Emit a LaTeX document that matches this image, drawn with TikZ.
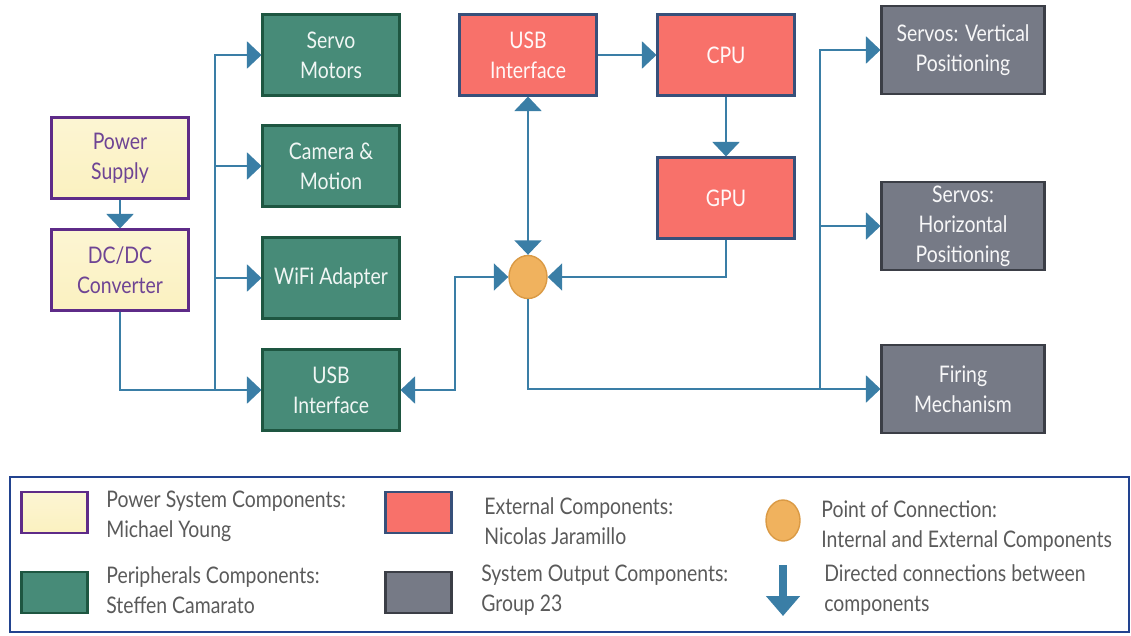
\documentclass[tikz,border=0pt]{standalone}
\usepackage{fontspec}
\setmainfont{Lato}[FakeStretch=0.85]
\usepackage{tikz}
\usetikzlibrary{arrows.meta, positioning, calc, shapes.geometric}

\definecolor{flowblue}{HTML}{3A7EA6}
\definecolor{pwrfill}{HTML}{FBF1C0}
\definecolor{pwrline}{HTML}{5E2B88}
\definecolor{pwrtext}{HTML}{6E4494}
\definecolor{perfill}{HTML}{478B78}
\definecolor{perline}{HTML}{1E5641}
\definecolor{extfill}{HTML}{F8716A}
\definecolor{extline}{HTML}{37507A}
\definecolor{outfill}{HTML}{767A86}
\definecolor{outline}{HTML}{3B3E46}
\definecolor{hubfill}{HTML}{F0B25E}
\definecolor{hubline}{HTML}{DA9A45}
\definecolor{keytext}{HTML}{5A5A5A}
\definecolor{keyframe}{HTML}{22438F}

\begin{document}
\begin{tikzpicture}[
        x=0.02cm, y=-0.02cm,
        block/.style={rectangle, line width=1.2pt, minimum width=2.74cm, minimum height=1.62cm, align=center, inner sep=1pt, font=\fontsize{13}{17}\selectfont},
        pwrbox/.style={block, draw=pwrline, top color=pwrfill!70!white, bottom color=pwrfill, text=pwrtext},
        perbox/.style={block, draw=perline, fill=perfill, text=white!92!perfill},
        extbox/.style={block, draw=extline, fill=extfill, text=white!95!extfill},
        outbox/.style={block, draw=outline, fill=outfill, text=white!94!outfill, minimum width=3.26cm, minimum height=1.76cm},
        hubdot/.style={ellipse, draw=hubline, fill=hubfill, line width=0.8pt, minimum width=0.76cm, minimum height=0.86cm, inner sep=0pt},
        conn/.style={draw=flowblue, line width=1.2pt, -{Triangle[length=0.29cm, width=0.54cm]}},
        biconn/.style={conn, {Triangle[length=0.29cm, width=0.54cm]}-{Triangle[length=0.29cm, width=0.54cm]}},
        swatch/.style={rectangle, line width=1.2pt, minimum width=1.32cm, minimum height=0.82cm, inner sep=0pt},
        keylabel/.style={anchor=west, align=left, inner sep=0pt, text=keytext, font=\fontsize{13}{17}\selectfont}
    ]
        \useasboundingbox (0,0) rectangle (1131,635);

        % power system
        \node[pwrbox] (psu) at (120,158) {Power\\Supply};
        \node[pwrbox] (dcdc) at (120,270) {DC/DC\\Converter};

        % peripherals
        \node[perbox] (servo) at (331,55) {Servo\\Motors};
        \node[perbox] (cam) at (331,166) {Camera \&\\Motion};
        \node[perbox] (wifi) at (331,278) {WiFi Adapter};
        \node[perbox] (usbp) at (331,390) {USB\\Interface};

        % external
        \node[extbox] (usbe) at (528,55) {USB\\Interface};
        \node[extbox] (cpu) at (726,55) {CPU};
        \node[extbox] (gpu) at (726,198) {GPU};
        \node[hubdot] (hub) at (528,277) {};

        % outputs
        \node[outbox] (svert) at (963,50) {Servos: Vertical\\Positioning};
        \node[outbox] (shor) at (963,226) {Servos:\\Horizontal\\Positioning};
        \node[outbox] (fire) at (963,389) {Firing\\Mechanism};

        \coordinate (pbus) at (215,390);
        \coordinate (jn) at (455,390);
        \coordinate (obus) at (820,389);

        \draw[conn] (psu) -- (dcdc);
        \draw[conn] (dcdc.south) |- (usbp);
        \draw[conn] (pbus) |- (servo);
        \draw[conn] (pbus) |- (cam);
        \draw[conn] (pbus) |- (wifi);
        \draw[biconn] (usbe) -- (hub);
        \draw[conn] (usbe) -- (cpu);
        \draw[conn] (cpu) -- (gpu);
        \draw[conn] (gpu) |- (hub);
        \draw[biconn] (hub) -| (jn) -- (usbp);
        \draw[conn] (hub) |- (fire);
        \draw[conn] (obus) |- (svert);
        \draw[conn] (obus) |- (shor);

        % legend
        \draw[keyframe, line width=1.4pt] (10,477) rectangle (1129,632);
        \node[swatch, draw=pwrline, top color=pwrfill!70!white, bottom color=pwrfill] (kpwr) at (54.5,512.5) {};
        \node[swatch, draw=perline, fill=perfill] (kper) at (54.5,592.5) {};
        \node[swatch, draw=extline, fill=extfill] (kext) at (418.5,512.5) {};
        \node[swatch, draw=outline, fill=outfill] (kout) at (418.5,592.5) {};
        \node[hubdot, minimum width=0.68cm, minimum height=0.82cm] (khub) at (783,520.5) {};
        \coordinate (karrtop) at (783,565);
        \coordinate (karrbot) at (783,616);
        \draw[flowblue, line width=4.5pt, -{Triangle[length=0.4cm, width=0.66cm]}] (karrtop) -- (karrbot);

        \node[keylabel] (tpwr) at (106,516) {Power System Components:\\Michael Young};
        \node[keylabel] (tper) at (106,590) {Peripherals Components:\\Steffen Camarato};
        \node[keylabel] (tint) at (484,521) {External Components:\\Nicolas Jaramillo};
        \node[keylabel] (tout) at (481,590) {System Output Components:\\Group 23};
        \node[keylabel] (thub) at (821,526) {Point of Connection:\\Internal and External Components};
        \node[keylabel] (tarr) at (824,590) {Directed connections between\\components};
    \end{tikzpicture}
\end{document}
